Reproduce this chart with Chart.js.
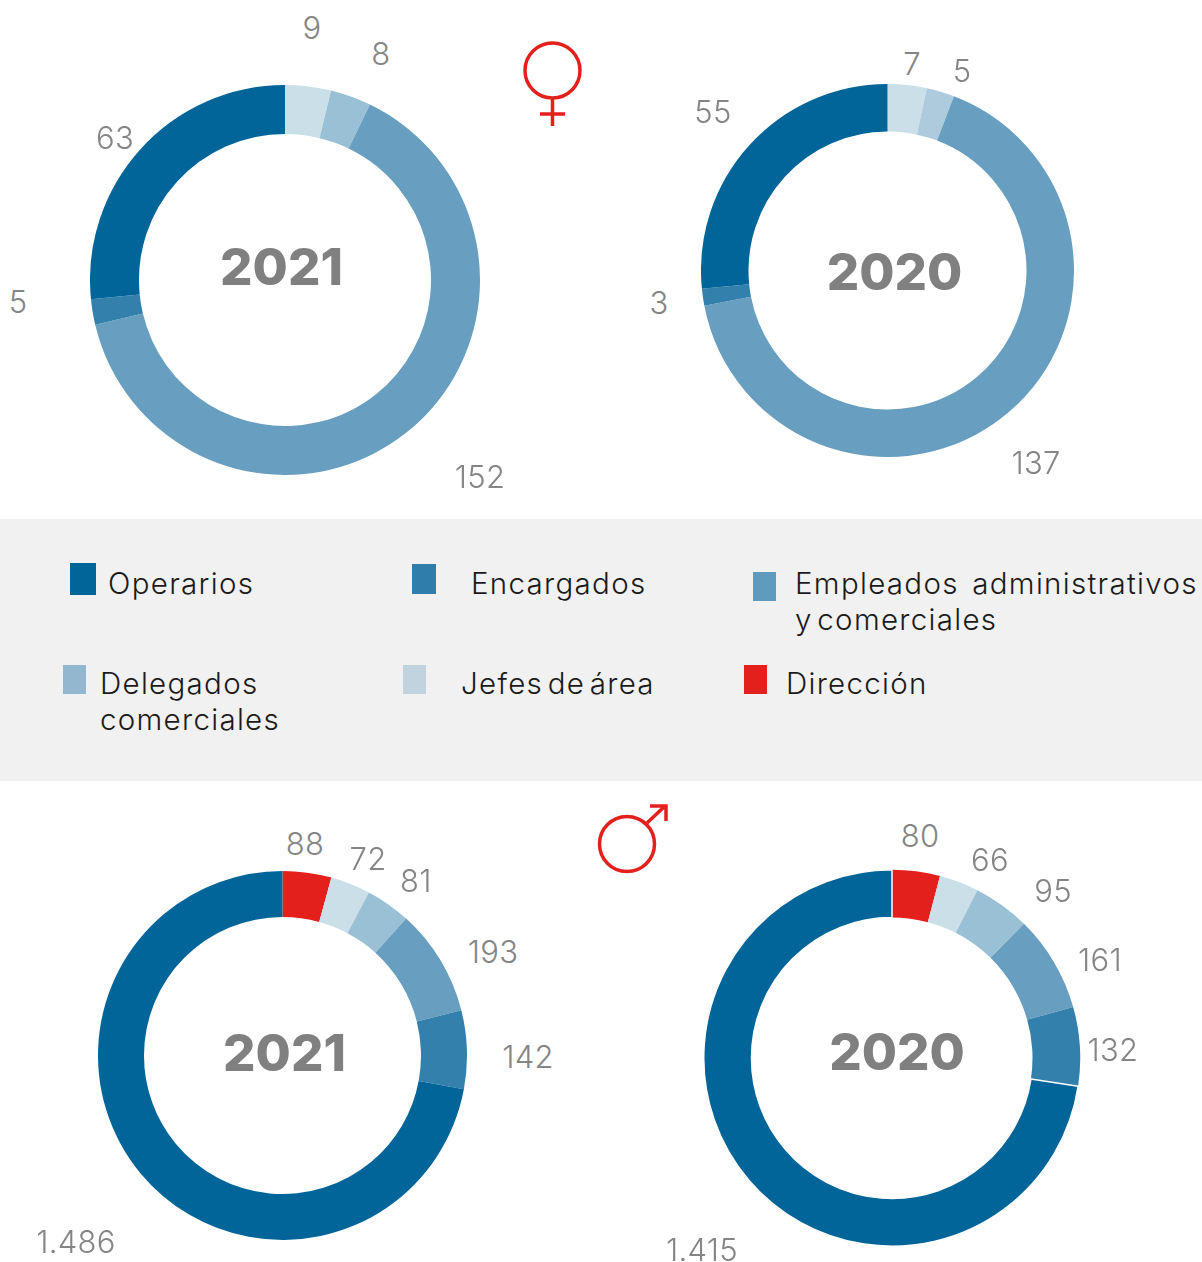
<!DOCTYPE html>
<html lang="es">
<head>
<meta charset="utf-8">
<title>Plantilla por categoría</title>
<script src="https://cdn.jsdelivr.net/npm/chart.js@4"></script>
<style>
  html, body { margin: 0; padding: 0; background: #fff; }
  body { position: relative; width: 1202px; height: 1262px; overflow: hidden; font-family: Inter, "Open Sans", sans-serif; }
  canvas { position: absolute; }
  .value { position: absolute; transform: translate(-50%, calc(-50% - 1px)); font-size: 31px; font-weight: 300; letter-spacing: 0.3px; color: #858585; line-height: 1; white-space: nowrap; }
  .year { position: absolute; transform: translate(-50%, calc(-50% - 1px)); font-size: 51px; font-weight: 800; color: #808080; line-height: 1; }
  #panel { position: absolute; left: 0; top: 519px; width: 1202px; height: 262px; background: #f1f1f1; }
  .swatch { position: absolute; }
  .entry { position: absolute; font-size: 29.5px; font-weight: 300; letter-spacing: 1.3px; word-spacing: -5px; color: #1a1a1a; line-height: 35.5px; white-space: nowrap; }
  .entry .spread { word-spacing: 4px; }
  svg { position: absolute; left: 0; top: 0; }
</style>
</head>
<body>
<div id="panel"></div>
<svg width="1202" height="1262" fill="none" stroke="#e3201b" stroke-width="3.5">
  <circle cx="552.5" cy="70.5" r="27.5"></circle>
  <path d="M552.5 98V126M540 114H565"></path>
  <circle cx="627" cy="844" r="27.5"></circle>
  <path d="M647 823L665 806M650 806H666V821"></path>
</svg>
<script>
const categories = ['Dirección', 'Jefes de área', 'Delegados comerciales', 'Empleados administrativos y comerciales', 'Encargados', 'Operarios'];
const sliceColors = ['#e3201b', '#cbdfe9', '#9ac0d5', '#689fc1', '#3480ac', '#02659a'];
const sliceColorsWomen2020 = ['#e3201b', '#cbdfe9', '#aecbde', '#689fc1', '#3480ac', '#02659a'];

const women2021 = [0, 9, 8, 152, 5, 63];
const women2020 = [0, 7, 5, 137, 3, 55];
const men2021 = [88, 72, 81, 193, 142, 1486];
const men2020 = [80, 66, 95, 161, 132, 1415];

const charts = [
  { year: '2021', values: women2021, colors: sliceColors, cx: 285, cy: 280, outer: 195, inner: 146, yearAt: [281.5, 267],
    spots: [null, [312, 28], [381, 54], [480, 477], [18, 302], [115, 138]] },
  { year: '2020', values: women2020, colors: sliceColorsWomen2020, cx: 887.5, cy: 270.5, outer: 186.5, inner: 139, yearAt: [894.5, 272],
    spots: [null, [912, 64], [962, 71], [1036, 463], [659, 303], [713, 112]] },
  { year: '2021', values: men2021, colors: sliceColors, cx: 282.5, cy: 1055.5, outer: 184.5, inner: 138.5, yearAt: [284.5, 1053],
    spots: [[305, 844], [368, 859], [416, 881], [493, 952], [528, 1057], [76, 1242]] },
  { year: '2020', values: men2020, colors: sliceColors, cx: 891.5, cy: 1057.5, outer: 189, inner: 140.5, yearAt: [897, 1052], whiteEdge: true,
    spots: [[920, 836], [990, 860], [1053, 891], [1100, 960], [1113, 1050], [702, 1250]] },
];

const legendEntries = [
  { color: '#02659a', box: [70, 563, 26, 32], text: ['Operarios'], at: [108, 566] },
  { color: '#2f7dab', box: [412, 564, 24, 30], text: ['Encargados'], at: [471, 566] },
  { color: '#5f9bbe', box: [753, 572, 23, 29], text: ['<span class="spread">Empleados administrativos</span>', 'y comerciales'], at: [795, 566] },
  { color: '#93b7cf', box: [63, 665, 23, 29], text: ['Delegados', 'comerciales'], at: [100, 666] },
  { color: '#c0d3df', box: [403, 665, 23, 29], text: ['Jefes de área'], at: [461, 666] },
  { color: '#e3201b', box: [744, 665, 23, 29], text: ['Dirección'], at: [786, 666] },
];

function formatValue(value) {
  return String(value).replace(/\B(?=(\d{3})+$)/g, '.');
}

function addText(className, text, x, y) {
  const el = document.createElement('div');
  el.className = className;
  el.textContent = text;
  el.style.left = x + 'px';
  el.style.top = y + 'px';
  document.body.appendChild(el);
  return el;
}

function createChart(spec) {
  const canvas = document.createElement('canvas');
  const size = spec.outer * 2;
  canvas.width = size;
  canvas.height = size;
  canvas.style.left = spec.cx - spec.outer + 'px';
  canvas.style.top = spec.cy - spec.outer + 'px';
  document.body.appendChild(canvas);

  new Chart(canvas, {
    type: 'doughnut',
    data: {
      labels: categories,
      datasets: [
        {
          data: spec.values,
          backgroundColor: spec.colors,
          borderColor: '#fff',
          borderWidth: spec.whiteEdge ? [0, 0, 0, 0, 0, 1.5] : 0,
        },
      ],
    },
    options: {
      responsive: false,
      animation: false,
      cutout: spec.inner,
      plugins: {
        legend: { display: false },
        tooltip: { enabled: false },
      },
    },
  });

  spec.values.forEach((value, i) => {
    if (spec.spots[i]) {
      addText('value', formatValue(value), spec.spots[i][0], spec.spots[i][1]);
    }
  });
  addText('year', spec.year, spec.yearAt[0], spec.yearAt[1]);
}

charts.forEach(createChart);

legendEntries.forEach((entry) => {
  const swatch = document.createElement('div');
  swatch.className = 'swatch';
  swatch.style.left = entry.box[0] + 'px';
  swatch.style.top = entry.box[1] + 'px';
  swatch.style.width = entry.box[2] + 'px';
  swatch.style.height = entry.box[3] + 'px';
  swatch.style.background = entry.color;
  document.body.appendChild(swatch);

  const label = addText('entry', '', entry.at[0], entry.at[1]);
  label.innerHTML = entry.text.join('<br>');
});
</script>
</body>
</html>
